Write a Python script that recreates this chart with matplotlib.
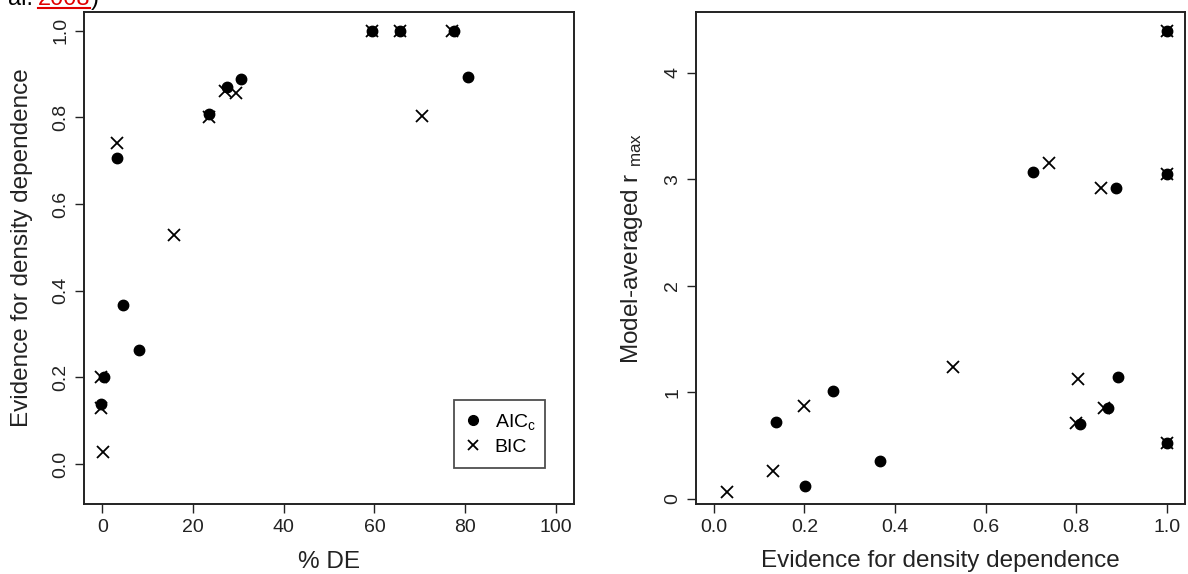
import matplotlib
matplotlib.use("Agg")
import matplotlib.pyplot as plt
from matplotlib.lines import Line2D

plt.rcParams['font.family'] = ['Liberation Sans', 'DejaVu Sans']
plt.rcParams['mathtext.fontset'] = 'custom'
plt.rcParams['mathtext.rm'] = 'Liberation Sans'
plt.rcParams['mathtext.it'] = 'Liberation Sans:italic'

# ---- data ----
# AICc
aic_de = [-0.4, 0.4, 8.0, 4.6, 3.2, 23.6, 27.4, 30.5, 80.6, 59.5, 65.6, 77.6]
aic_ev = [0.138, 0.202, 0.264, 0.367, 0.705, 0.808, 0.869, 0.888, 0.892, 1.0, 1.0, 1.0]
aic_rmax = [0.725, 0.125, 1.013, 0.356, 3.07, 0.704, 0.851, 2.915, 1.147, 4.393, 3.052, 0.522]
# BIC
bic_de = [0.1, -0.2, -0.2, 15.9, 3.2, 23.6, 70.5, 29.4, 27.1, 59.5, 65.6, 77.0]
bic_ev = [0.029, 0.130, 0.200, 0.528, 0.740, 0.800, 0.803, 0.855, 0.861, 1.0, 1.0, 1.0]
bic_rmax = [0.063, 0.266, 0.875, 1.235, 3.149, 0.71, 1.123, 2.915, 0.857, 4.393, 3.052, 0.522]

left_xticks = [0, 20, 40, 60, 80, 100]
left_yticks = [0.0, 0.2, 0.4, 0.6, 0.8, 1.0]
right_xticks = [0.0, 0.2, 0.4, 0.6, 0.8, 1.0]
right_yticks = [0, 1, 2, 3, 4]

W, H = 1188, 574
fig = plt.figure(figsize=(W / 100, H / 100), dpi=100)

def fx(px):
    return px / W

def fy(py):
    return 1 - py / H

top, bottom = 12.3, 504
axL = fig.add_axes([fx(84.2), fy(bottom), fx(574 - 84.2), (bottom - top) / H])
axR = fig.add_axes([fx(695.6), fy(bottom), fx(1185 - 695.6), (bottom - top) / H])

dot_kw = dict(marker='o', color='black', markersize=7.5, linestyle='none')
x_kw = dict(marker='x', color='black', markersize=8, markeredgewidth=1.3, linestyle='none')

axL.plot(aic_de, aic_ev, **dot_kw)
axL.plot(bic_de, bic_ev, **x_kw)
axR.plot(aic_ev, aic_rmax, **dot_kw)
axR.plot(bic_ev, bic_rmax, **x_kw)

axL.set_xlim(-4, 104)
axL.set_ylim(-0.092, 1.042)
axR.set_xlim(-0.04, 1.04)
axR.set_ylim(-0.047, 4.567)

axL.set_xticks(left_xticks)
axL.set_xticklabels([str(v) for v in left_xticks])
axL.set_yticks(left_yticks)
axL.set_yticklabels([f"{v:.1f}" for v in left_yticks])
axR.set_xticks(right_xticks)
axR.set_xticklabels([f"{v:.1f}" for v in right_xticks])
axR.set_yticks(right_yticks)
axR.set_yticklabels([str(v) for v in right_yticks])

for ax in (axL, axR):
    for s in ax.spines.values():
        s.set_linewidth(1.4)
        s.set_color('#222222')
    ax.tick_params(axis='both', direction='out', length=6.5, width=1.0, color='#222222',
                   labelsize=14, labelcolor='#222222')
    ax.tick_params(axis='x', pad=4)
    ax.tick_params(axis='y', pad=4)
    for lab in ax.get_yticklabels():
        lab.set_rotation(90)
        lab.set_va('center')

lab_kw = dict(fontsize=17.5, color='#222222', va='center')
axL.set_xlabel('% DE', **lab_kw)
axL.xaxis.set_label_coords(0.5, -(561.5 - bottom) / (bottom - top))
axL.set_ylabel('Evidence for density dependence', **lab_kw)
axL.yaxis.set_label_coords(-(84.2 - 22.5) / (574 - 84.2), (bottom - 248) / (bottom - top))

axR.set_xlabel('Evidence for density dependence', **lab_kw)
axR.xaxis.set_label_coords(0.5, -(561 - bottom) / (bottom - top))
axR.set_ylabel(r'Model-averaged r $_{\mathregular{max}}$', **lab_kw)
axR.yaxis.set_label_coords(-(695.6 - 632) / (1185 - 695.6), (bottom - 249) / (bottom - top))

handles = [Line2D([], [], **dot_kw), Line2D([], [], **x_kw)]
handles[0].set_markersize(7)
handles[1].set_markersize(7)
leg = axL.legend(handles, [r'AIC$_{\mathregular{c}}$', 'BIC'], loc='lower left',
                 bbox_to_anchor=((454 - 84.2) / (574 - 84.2), (bottom - 467.7) / (bottom - top),
                                 (545 - 454) / (574 - 84.2), (467.7 - 399) / (bottom - top)),
                 mode='expand', fontsize=14, frameon=True, fancybox=False, handlelength=0.8,
                 handletextpad=0.7, borderpad=0.6, labelspacing=0.35, borderaxespad=0)
leg.get_frame().set_edgecolor('#222222')
leg.get_frame().set_linewidth(1.3)

# clipped caption fragment at top
fig.text(fx(8), fy(5), 'al.', fontsize=17, color='black', va='baseline', ha='left')
fig.text(fx(38), fy(5), '2008', fontsize=17, color='#e00000', va='baseline', ha='left')
fig.text(fx(91), fy(5), ')', fontsize=17, color='black', va='baseline', ha='left')
fig.add_artist(Line2D([fx(38), fx(90)], [fy(7.5), fy(7.5)], color='#e00000', linewidth=1.5))

fig.savefig('out.png', dpi=100)
